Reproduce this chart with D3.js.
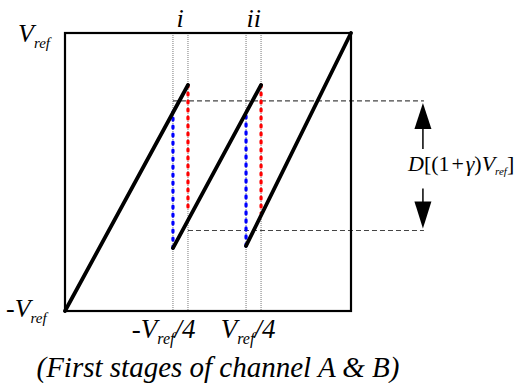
<!DOCTYPE html>
<html>
<head>
<meta charset="utf-8">
<script src="https://cdn.jsdelivr.net/npm/d3@7"></script>
<style>
  html, body { margin: 0; padding: 0; background: #fff; }
  svg text { font-family: "Times New Roman", "Liberation Serif", "DejaVu Serif", serif; font-style: italic; fill: #000; }
</style>
</head>
<body>
<svg></svg>
<script>
var width = 515;
var height = 383;

// transfer curve of the first stage, normalised to Vref
var rampStartX = [-1, -0.245, 0.266];
var rampStartY = [-1, -0.547, -0.532];
var rampEndX = [-0.14, 0.371, 1];
var rampEndY = [0.626, 0.626, 1];

// blue / red dotted jumps
var blueX = [-0.245, 0.266];
var blueY0 = [-0.547, -0.532];
var blueY1 = [0.432, 0.432];
var redX = [-0.14, 0.371];
var redY0 = [0.626, 0.626];
var redY1 = [-0.273, -0.295];

// thin dotted guides and their labels
var guideX = [-0.245, -0.14, 0.266, 0.371];
var regionLabels = ['i', 'ii'];
var regionLabelX = [-0.195, 0.32];

// dashed levels of the output range
var levelY = [0.511, -0.421];
var levelStartX = [-0.245, -0.14];
var levelEndX = 1.51;
var arrowX = 1.503;

var tickLabelX = [-0.31, 0.28];
var tickLabelSign = ['-', ''];

var xScale = d3.scaleLinear().domain([-1, 1]).range([65, 351]);
var yScale = d3.scaleLinear().domain([-1, 1]).range([311, 33]);

var svg = d3.select('svg')
    .attr('width', width)
    .attr('height', height);

// guides
svg.append('g')
  .selectAll('line')
    .data(guideX)
    .enter()
    .append('line')
      .attr('x1', d => xScale(d))
      .attr('x2', d => xScale(d))
      .attr('y1', yScale(1))
      .attr('y2', yScale(-1))
      .attr('stroke', '#777')
      .attr('stroke-width', 1)
      .attr('stroke-dasharray', '1,1');

// dashed levels
svg.append('g')
  .selectAll('line')
    .data(levelY)
    .enter()
    .append('line')
      .attr('x1', (d, i) => xScale(levelStartX[i]))
      .attr('x2', xScale(levelEndX))
      .attr('y1', d => yScale(d))
      .attr('y2', d => yScale(d))
      .attr('stroke', '#444')
      .attr('stroke-width', 1.2)
      .attr('stroke-dasharray', '5,3');

// box
svg.append('rect')
    .attr('x', xScale(-1))
    .attr('y', yScale(1))
    .attr('width', xScale(1) - xScale(-1))
    .attr('height', yScale(-1) - yScale(1))
    .attr('fill', 'none')
    .attr('stroke', '#000')
    .attr('stroke-width', 2.2);

// jumps
function jumps(xs, y0s, y1s, color) {
  svg.append('g')
    .selectAll('line')
      .data(xs)
      .enter()
      .append('line')
        .attr('x1', d => xScale(d))
        .attr('x2', d => xScale(d))
        .attr('y1', (d, i) => yScale(y0s[i]))
        .attr('y2', (d, i) => yScale(y1s[i]))
        .attr('stroke', color)
        .attr('stroke-width', 3.2)
        .attr('stroke-linecap', 'round')
        .attr('stroke-dasharray', '2,6');
}
jumps(blueX, blueY0, blueY1, '#0000ff');
jumps(redX, redY0, redY1, '#ff0000');

// ramps
svg.append('g')
  .selectAll('line')
    .data(rampStartX)
    .enter()
    .append('line')
      .attr('x1', d => xScale(d))
      .attr('y1', (d, i) => yScale(rampStartY[i]))
      .attr('x2', (d, i) => xScale(rampEndX[i]))
      .attr('y2', (d, i) => yScale(rampEndY[i]))
      .attr('stroke', '#000')
      .attr('stroke-width', 3.8)
      .attr('stroke-linecap', 'round');

// arrows
var ax = xScale(arrowX);
var yTop = yScale(levelY[0]);
var yBot = yScale(levelY[1]);
svg.append('line')
    .attr('x1', ax).attr('x2', ax)
    .attr('y1', yTop + 24).attr('y2', yTop + 48)
    .attr('stroke', '#000').attr('stroke-width', 1.5);
svg.append('path')
    .attr('d', `M${ax},${yTop + 2} L${ax - 8.5},${yTop + 28} L${ax + 8.5},${yTop + 28} Z`)
    .attr('fill', '#000');
svg.append('line')
    .attr('x1', ax).attr('x2', ax)
    .attr('y1', yBot - 42).attr('y2', yBot - 26)
    .attr('stroke', '#000').attr('stroke-width', 1.5);
svg.append('path')
    .attr('d', `M${ax},${yBot - 2} L${ax - 8.5},${yBot - 29} L${ax + 8.5},${yBot - 29} Z`)
    .attr('fill', '#000');

// helper for V_ref style labels
function refLabel(x, y, before, after, size, subSize, anchor) {
  var t = svg.append('text')
      .attr('x', x)
      .attr('y', y)
      .style('font-size', size + 'px')
      .style('text-anchor', anchor || 'start');
  t.append('tspan').text(before + 'V');
  t.append('tspan').attr('dy', size * 0.22).style('font-size', subSize + 'px').text('ref');
  t.append('tspan').attr('dy', -size * 0.22).text(after);
  return t;
}

refLabel(18, 42, '', '', 26, 15);
refLabel(6, 317, '-', '', 26, 15);

tickLabelX.forEach((d, i) => {
  refLabel(xScale(d), 338, tickLabelSign[i], '/4', 27, 16, 'middle');
});

// region labels
svg.append('g')
  .selectAll('text')
    .data(regionLabels)
    .enter()
    .append('text')
      .attr('x', (d, i) => xScale(regionLabelX[i]))
      .attr('y', 27)
      .style('font-size', '26px')
      .style('text-anchor', 'middle')
      .text(d => d);

// range label
var r = svg.append('text')
    .attr('x', 408)
    .attr('y', 171)
    .style('font-size', '22px');
r.append('tspan').text('D');
r.append('tspan').style('font-style', 'normal').text('[(1\u200a+\u200a');
r.append('tspan').text('\u03b3');
r.append('tspan').style('font-style', 'normal').text(')');
r.append('tspan').text('V');
r.append('tspan').attr('dy', 4).style('font-size', '11px').text('ref');
r.append('tspan').attr('dy', -4).style('font-style', 'normal').text(']');

// caption
svg.append('text')
    .attr('x', 218)
    .attr('y', 377)
    .style('font-size', '29px')
    .style('text-anchor', 'middle')
    .text('(First stages of channel A & B)');
</script>
</body>
</html>
